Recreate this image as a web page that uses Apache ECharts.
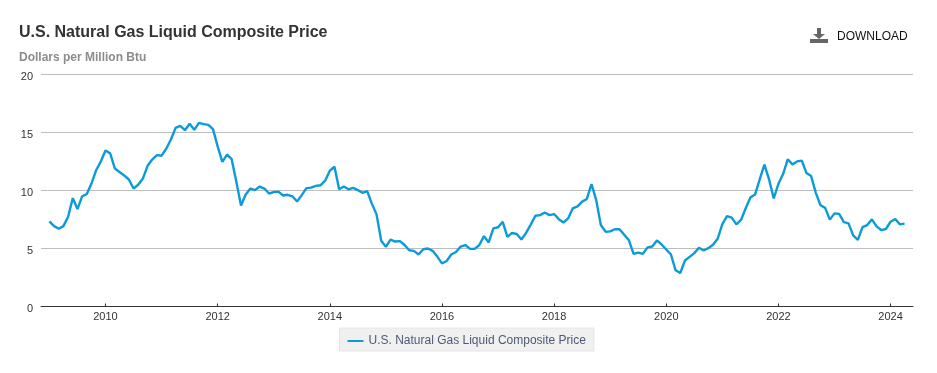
<!DOCTYPE html>
<html>
<head>
<meta charset="utf-8">
<style>html,body{margin:0;padding:0;background:#fff}#c{width:937px;height:373px}</style>
<script src="https://cdn.jsdelivr.net/npm/echarts@6/dist/echarts.min.js"></script>
</head>
<body>
<div id="c"></div>
<script>
const seriesName = 'U.S. Natural Gas Liquid Composite Price';
const subtitle = 'Dollars per Million Btu';
const startYear = 2009;
const yearTicks = [2010, 2012, 2014, 2016, 2018, 2020, 2022, 2024];
const y2009 = [7.33, 6.93, 6.7, 6.93, 7.73, 9.34, 8.4, 9.5, 9.7, 10.6, 11.75, 12.5];
const y2010 = [13.45, 13.2, 11.9, 11.6, 11.3, 10.95, 10.17, 10.5, 11.03, 12.13, 12.67, 13.05];
const y2011 = [13.0, 13.6, 14.4, 15.4, 15.57, 15.2, 15.75, 15.23, 15.83, 15.72, 15.66, 15.29];
const y2012 = [13.8, 12.47, 13.1, 12.7, 10.75, 8.7, 9.66, 10.17, 10.03, 10.34, 10.17, 9.74];
const y2013 = [9.86, 9.9, 9.57, 9.63, 9.5, 9.05, 9.6, 10.2, 10.25, 10.4, 10.45, 10.85];
const y2014 = [11.7, 12.05, 10.1, 10.35, 10.1, 10.23, 10.03, 9.8, 9.94, 8.87, 7.94, 5.67];
const y2015 = [5.15, 5.76, 5.6, 5.64, 5.3, 4.85, 4.8, 4.48, 4.94, 5.0, 4.8, 4.3];
const y2016 = [3.72, 3.92, 4.48, 4.7, 5.17, 5.3, 4.97, 4.97, 5.3, 6.07, 5.52, 6.74];
const y2017 = [6.83, 7.3, 6.0, 6.34, 6.25, 5.78, 6.34, 7.06, 7.82, 7.88, 8.1, 7.88];
const y2018 = [7.97, 7.53, 7.24, 7.59, 8.46, 8.63, 9.04, 9.27, 10.55, 9.19, 7.03, 6.45];
const y2019 = [6.48, 6.66, 6.66, 6.19, 5.72, 4.54, 4.65, 4.54, 5.1, 5.17, 5.69, 5.35];
const y2020 = [4.91, 4.48, 3.12, 2.89, 3.96, 4.28, 4.6, 5.06, 4.83, 5.03, 5.32, 5.84];
const y2021 = [7.11, 7.8, 7.66, 7.08, 7.46, 8.47, 9.39, 9.65, 10.95, 12.23, 10.95, 9.31];
const y2022 = [10.58, 11.42, 12.69, 12.25, 12.51, 12.57, 11.5, 11.24, 9.8, 8.73, 8.5, 7.49];
const y2023 = [8.03, 7.98, 7.28, 7.17, 6.13, 5.75, 6.85, 7.02, 7.51, 6.91, 6.59, 6.68];
const y2024 = [7.31, 7.54, 7.08, 7.14];

const allYears = [y2009, y2010, y2011, y2012, y2013, y2014, y2015, y2016, y2017, y2018, y2019, y2020, y2021, y2022, y2023, y2024];
const points = [];
allYears.forEach((vals, yi) => vals.forEach((v, mi) => points.push([startYear + yi + mi / 12, v])));

const fontFamily = '"Liberation Sans", Arial, sans-serif';
const chart = echarts.init(document.getElementById('c'), null, { renderer: 'canvas' });
chart.setOption({
  animation: false,
  backgroundColor: '#fff',
  title: [
    { text: seriesName, left: 19, top: 25, padding: 0,
      textStyle: { fontFamily, fontSize: 16, fontWeight: 'bold', color: '#333' } },
    { text: subtitle, left: 19, top: 52, padding: 0,
      textStyle: { fontFamily, fontSize: 12, fontWeight: 'bold', color: '#8c8c8c' } }
  ],
  grid: { left: 41, right: 24, top: 74.5, bottom: 66.5, containLabel: false },
  xAxis: {
    type: 'value',
    min: 2008.85,
    max: 2024.4,
    splitLine: { show: false },
    axisLine: { show: true, onZero: false, lineStyle: { color: '#333', width: 1 } },
    axisTick: { show: true, inside: true, length: 3, customValues: yearTicks, lineStyle: { color: '#333' } },
    axisLabel: {
      customValues: yearTicks,
      formatter: v => String(Math.round(v)),
      fontFamily, fontSize: 11, color: '#333', margin: 5
    }
  },
  yAxis: {
    type: 'value',
    min: 0,
    max: 20,
    interval: 5,
    axisLine: { show: false },
    axisTick: { show: false },
    splitLine: { show: true, lineStyle: { color: '#bdbdbd', width: 1 } },
    axisLabel: { fontFamily, fontSize: 11, color: '#333', margin: 8, verticalAlign: 'top', lineHeight: 4 }
  },
  legend: {
    show: true,
    left: 339.5,
    top: 328,
    padding: [7, 8, 4, 8],
    backgroundColor: '#f0f0f0',
    borderColor: '#e6e6e6',
    borderWidth: 1,
    itemWidth: 16,
    itemHeight: 2,
    itemGap: 0,
    textStyle: { fontFamily, fontSize: 12, color: '#4d5a75', padding: [2, 0, 0, 0] },
    data: [{ name: seriesName, icon: 'rect' }]
  },
  graphic: [
    { type: 'polygon', shape: { points: [[817, 28], [821, 28], [821, 34], [825, 34], [819, 39], [813, 34], [817, 34]] }, style: { fill: '#666' } },
    { type: 'rect', shape: { x: 810, y: 39, width: 18, height: 4 }, style: { fill: '#666' } },
    { type: 'text', x: 837, y: 31, style: { text: 'DOWNLOAD', fill: '#111', font: '12px ' + fontFamily } }
  ],
  series: [{
    name: seriesName,
    type: 'line',
    data: points,
    showSymbol: false,
    smooth: false,
    lineStyle: { color: '#0c9ad9', width: 2.4 },
    itemStyle: { color: '#0c9ad9' }
  }]
});
</script>
</body>
</html>
